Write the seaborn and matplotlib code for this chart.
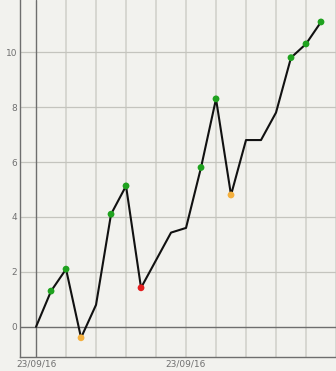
import matplotlib
matplotlib.use("Agg")
import matplotlib.pyplot as plt
import seaborn as sns
import pandas as pd

# data
x_idx = [0, 1, 2, 3, 4, 5, 6, 7, 9, 10, 11, 12, 13, 14, 15, 16, 17, 18, 19]
values = [0, 1.3, 2.1, -0.4, 0.8, 4.1, 5.13, 1.42, 3.43, 3.6, 5.8, 8.3, 4.8, 6.8, 6.8, 7.8, 9.8, 10.3, 11.1]
status = ["none", "good", "good", "warn", "none", "good", "good", "bad", "none", "none",
          "good", "good", "warn", "none", "none", "none", "good", "good", "good"]
x_tick_pos = [0, 10]
x_tick_labels = ["23/09/16", "23/09/16"]
y_ticks = [0, 2, 4, 6, 8, 10]

bg = "#f2f2ee"
sns.set_theme(style="white", rc={"axes.facecolor": bg, "figure.facecolor": bg})
plt.rcParams["font.family"] = ["DejaVu Sans"]

df = pd.DataFrame({"x": x_idx, "y": values, "status": status})
mk = df[df["status"] != "none"]

fig = plt.figure(figsize=(3.36, 3.71), dpi=100)
ax = fig.add_axes([20 / 336, 14 / 371, 316 / 336, 357 / 371])

# grid
for gx in range(2, 21, 2):
    ax.axvline(gx, color="#d2d2cc", lw=1.2, zorder=0)
for gy in y_ticks:
    if gy != 0:
        ax.axhline(gy, color="#c4c4be", lw=0.9, zorder=0)
ax.axhline(0, color="#6e6e6e", lw=1.0, zorder=1)
ax.axvline(0, color="#6e6e6e", lw=1.0, zorder=1)

sns.lineplot(data=df, x="x", y="y", color="#111111", lw=1.5, ax=ax, zorder=3)
sns.scatterplot(data=mk, x="x", y="y", hue="status",
                palette={"good": "#1fa21f", "warn": "#f4b03e", "bad": "#e41e1e"},
                s=24, edgecolor="none", legend=False, ax=ax, zorder=4)

ax.set_xlim(-1.07, 20.0)
ax.set_ylim(-1.1, 11.9)
ax.set_xticks(x_tick_pos)
ax.set_xticklabels(x_tick_labels)
ax.set_yticks(y_ticks)
ax.set_xlabel("")
ax.set_ylabel("")
ax.tick_params(axis="both", length=0, labelsize=6.5, labelcolor="#707070", pad=2)

for s in ["top", "right"]:
    ax.spines[s].set_visible(False)
ax.spines["left"].set_color("#6e6e6e")
ax.spines["bottom"].set_color("#6e6e6e")
ax.spines["left"].set_linewidth(1.0)
ax.spines["bottom"].set_linewidth(1.0)

fig.savefig("out.png", dpi=100, facecolor=bg)
